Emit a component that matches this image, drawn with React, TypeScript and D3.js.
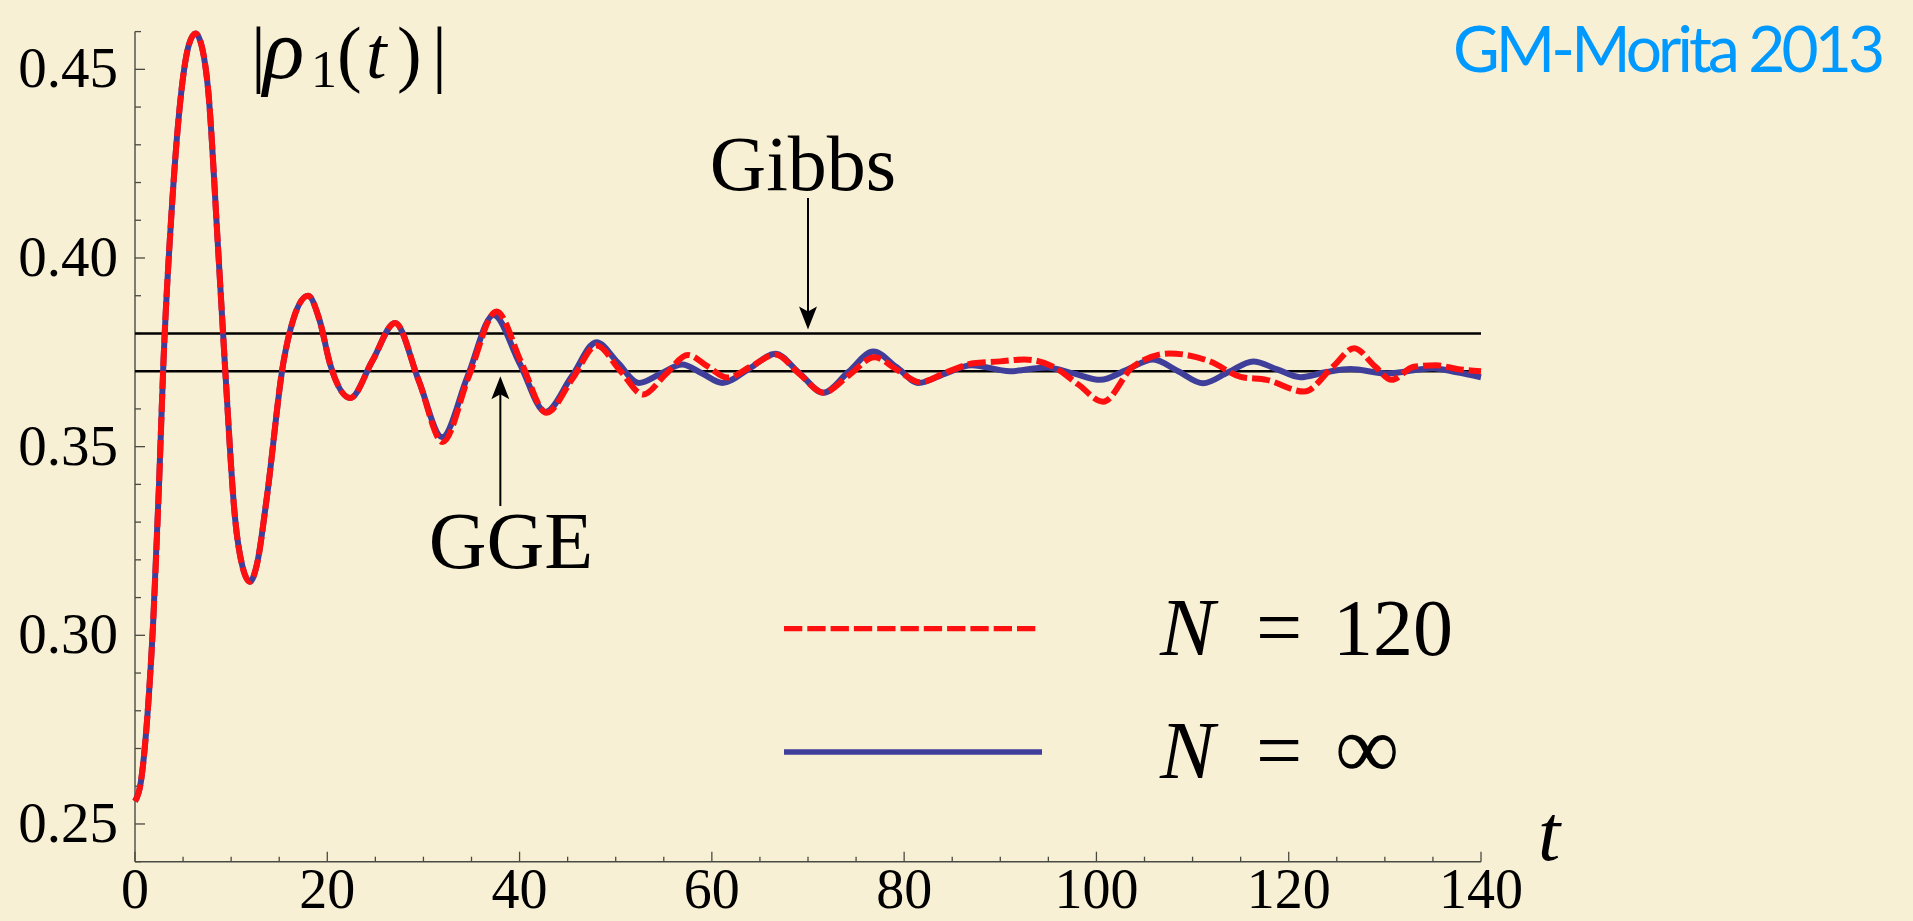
import React from 'react';
import * as d3 from 'd3';

// |rho_1(t)|, N = infinity (solid blue)
const tInf = [0, 0.6, 1.3, 1.9, 2.5, 2.95, 3.8, 4.85, 5.6, 6.3, 7.0, 7.6, 8.65, 9.35, 10.4, 11.2, 11.95, 12.7, 13.7, 15.4, 16.5, 18.0, 19.2, 20.3, 22.4, 24.7, 27.05, 29.5, 31.95, 34.6, 37.3, 40.0, 42.7, 45.4, 48.0, 50.2, 52.4, 54.7, 56.9, 59.0, 61.1, 63.9, 66.6, 69.1, 71.6, 74.2, 76.8, 79.2, 81.5, 84.2, 87.0, 91.0, 94.8, 97.6, 100.4, 103.1, 105.9, 108.5, 111.1, 113.7, 116.3, 118.8, 121.2, 123.8, 126.4, 130.2, 135.0, 137.5, 140];
const rhoInf = [0.256, 0.261, 0.279, 0.304, 0.340, 0.3718, 0.412, 0.4448, 0.4565, 0.4595, 0.4555, 0.4448, 0.4022, 0.3718, 0.3312, 0.318, 0.3142, 0.319, 0.3363, 0.3718, 0.384, 0.3900, 0.3835, 0.3718, 0.3629, 0.3728, 0.3828, 0.3676, 0.3525, 0.3687, 0.3849, 0.3721, 0.3592, 0.3685, 0.3777, 0.3723, 0.3669, 0.3694, 0.3718, 0.3694, 0.3669, 0.3707, 0.3746, 0.3695, 0.3643, 0.3698, 0.3752, 0.3711, 0.3669, 0.3693, 0.3716, 0.3700, 0.3710, 0.3694, 0.3677, 0.3703, 0.3731, 0.3700, 0.3668, 0.3697, 0.3726, 0.3705, 0.3684, 0.3697, 0.3706, 0.3694, 0.3708, 0.3697, 0.3684];

// N = 120 (dashed red)
const t120 = [0, 0.6, 1.3, 1.9, 2.5, 2.95, 3.8, 4.85, 5.6, 6.3, 7.0, 7.6, 8.65, 9.35, 10.4, 11.2, 11.95, 12.7, 13.7, 15.4, 16.5, 18.0, 19.2, 20.3, 22.4, 24.7, 27.05, 29.5, 32.0, 34.7, 37.6, 40.2, 42.8, 45.5, 48.0, 50.5, 52.85, 55.2, 57.5, 59.6, 61.6, 64.1, 66.6, 69.1, 71.6, 74.3, 76.9, 79.3, 81.6, 84.5, 87.2, 90.0, 92.5, 95.5, 98.1, 100.7, 103.8, 107.6, 111.9, 115.0, 117.7, 121.6, 124.6, 126.8, 129.0, 130.7, 133.0, 135.3, 137.5, 140];
const rho120 = [0.256, 0.261, 0.279, 0.304, 0.340, 0.3718, 0.412, 0.4448, 0.4565, 0.4595, 0.4555, 0.4448, 0.4022, 0.3718, 0.3312, 0.318, 0.3142, 0.319, 0.3363, 0.3718, 0.384, 0.3900, 0.3835, 0.3718, 0.3629, 0.3728, 0.3828, 0.3676, 0.3512, 0.3685, 0.3858, 0.3722, 0.3590, 0.3680, 0.3768, 0.3700, 0.3638, 0.3692, 0.3743, 0.3712, 0.3683, 0.3713, 0.3744, 0.3693, 0.3643, 0.3690, 0.3737, 0.3703, 0.3671, 0.3698, 0.3721, 0.3726, 0.3731, 0.3712, 0.3665, 0.3619, 0.3712, 0.3747, 0.3725, 0.3685, 0.3677, 0.3646, 0.3712, 0.3761, 0.3712, 0.3677, 0.3712, 0.3716, 0.3706, 0.3700];

const xMajor = [0, 20, 40, 60, 80, 100, 120, 140];
const yMajor = [0.25, 0.3, 0.35, 0.4, 0.45];
const gibbsLevel = 0.38;
const ggeLevel = 0.37;
const gibbsArrowAt = 70;
const ggeArrowAt = 38;

const W = 1913;
const H = 921;
const serif = "'Liberation Serif', 'Times New Roman', serif";

export default function App() {
  const x = d3.scaleLinear().domain([0, 140]).range([135, 1481]);
  const y = d3.scaleLinear().domain([0.24, 0.46]).range([861.7, 31.6]);

  const line = d3.line<[number, number]>()
    .x(d => x(d[0]))
    .y(d => y(d[1]))
    .curve(d3.curveMonotoneX);

  const infPts = tInf.map((t, i) => [t, rhoInf[i]] as [number, number]);
  const n120Pts = t120.map((t, i) => [t, rho120[i]] as [number, number]);

  const xMinor = d3.range(0, 141, 5);
  const yMinor = d3.range(24, 47).map(d => d / 100);
  const axisColor = '#4a4a44';
  const blue = '#3f3f9b';
  const red = '#ff1010';

  const arrowHead = (ax: number, tipY: number, dir: number) => {
    // dir = 1 points down, -1 points up
    const len = 23, half = 9, notch = 5;
    return `M${ax},${tipY} L${ax - half},${tipY - dir * len} L${ax},${tipY - dir * (len - notch)} L${ax + half},${tipY - dir * len} Z`;
  };

  const gx = x(gibbsArrowAt);
  const gTip = y(gibbsLevel) - 4;
  const ex = x(ggeArrowAt);
  const eTip = y(ggeLevel) + 5;

  return (
    <svg width={W} height={H} style={{ position: 'absolute', left: 0, top: 0, display: 'block' }}>
      <rect x={0} y={0} width={W} height={H} fill="#f8f0d4" />

      {/* axes */}
      <line x1={x(0)} x2={x(140)} y1={y(0.24)} y2={y(0.24)} stroke={axisColor} strokeWidth={1.4} />
      <line x1={x(0)} x2={x(0)} y1={y(0.24)} y2={y(0.46)} stroke={axisColor} strokeWidth={1.4} />
      {xMinor.map(t => (
        <line key={'xt' + t} x1={x(t)} x2={x(t)} y1={y(0.24)}
          y2={y(0.24) - (t % 20 === 0 ? 10 : 5)} stroke={axisColor} strokeWidth={1.3} />
      ))}
      {yMinor.map(v => (
        <line key={'yt' + v} x1={x(0)} x2={x(0) + (yMajor.some(m => Math.abs(m - v) < 1e-6) ? 10 : 6)}
          y1={y(v)} y2={y(v)} stroke={axisColor} strokeWidth={1.3} />
      ))}
      {xMajor.map(t => (
        <text key={'xl' + t} x={x(t)} y={908} textAnchor="middle" fontFamily={serif} fontSize={56} fill="#000">{t}</text>
      ))}
      {yMajor.map(v => (
        <text key={'yl' + v} x={118} y={y(v) + 18} textAnchor="end" fontFamily={serif} fontSize={57} fill="#000">{v.toFixed(2)}</text>
      ))}

      {/* reference levels */}
      <line x1={x(0)} x2={x(140)} y1={y(gibbsLevel)} y2={y(gibbsLevel)} stroke="#000" strokeWidth={2.4} />
      <line x1={x(0)} x2={x(140)} y1={y(ggeLevel)} y2={y(ggeLevel)} stroke="#000" strokeWidth={2.4} />

      {/* curves */}
      <path d={line(infPts) || ''} fill="none" stroke={blue} strokeWidth={6} strokeLinejoin="round" />
      <path d={line(n120Pts) || ''} fill="none" stroke={red} strokeWidth={6} strokeDasharray="18 5" strokeLinejoin="round" />

      {/* annotations */}
      <text x={803} y={190} textAnchor="middle" fontFamily={serif} fontSize={78} fill="#000">Gibbs</text>
      <line x1={gx} x2={gx} y1={198} y2={gTip - 15} stroke="#000" strokeWidth={2} />
      <path d={arrowHead(gx, gTip, 1)} fill="#000" />

      <text x={511} y={568} textAnchor="middle" fontFamily={serif} fontSize={80} fill="#000">GGE</text>
      <line x1={ex} x2={ex} y1={506} y2={eTip + 15} stroke="#000" strokeWidth={2} />
      <path d={arrowHead(ex, eTip, -1)} fill="#000" />

      {/* y label */}
      <text y={78} fontFamily={serif} fontSize={74} fill="#000">
        <tspan x={251}>|</tspan>
        <tspan x={263} fontStyle="italic" fontSize={86}>ρ</tspan>
        <tspan x={311} y={87} fontSize={52}>1</tspan>
        <tspan x={337} y={78}>(</tspan>
        <tspan x={366} fontStyle="italic">t</tspan>
        <tspan x={397}>)</tspan>
        <tspan x={432}>|</tspan>
      </text>

      {/* x label */}
      <text x={1538} y={860} fontFamily={serif} fontStyle="italic" fontSize={80} fill="#000">t</text>

      {/* legend */}
      <line x1={784} x2={1036} y1={628.7} y2={628.7} stroke={red} strokeWidth={5.3} strokeDasharray="18.3 5" />
      <line x1={784} x2={1042} y1={752} y2={752} stroke={blue} strokeWidth={5.3} />
      <text x={1160} y={655} fontFamily={serif} fontStyle="italic" fontSize={82} fill="#000">N</text>
      <text x={1279} y={655} textAnchor="middle" fontFamily={serif} fontSize={82} fill="#000">=</text>
      <text x={1333} y={655} fontFamily={serif} fontSize={80} fill="#000">120</text>
      <text x={1160} y={778} fontFamily={serif} fontStyle="italic" fontSize={82} fill="#000">N</text>
      <text x={1279} y={778} textAnchor="middle" fontFamily={serif} fontSize={82} fill="#000">=</text>
      <text x={1335} y={778} fontFamily={serif} fontSize={90} fill="#000">∞</text>

      {/* credit */}
      <text x={1885} y={72} textAnchor="end" fontFamily="Lato, 'Open Sans', sans-serif" fontSize={64}
        fill="#0099ff" textLength={432}>GM-Morita 2013</text>
    </svg>
  );
}
